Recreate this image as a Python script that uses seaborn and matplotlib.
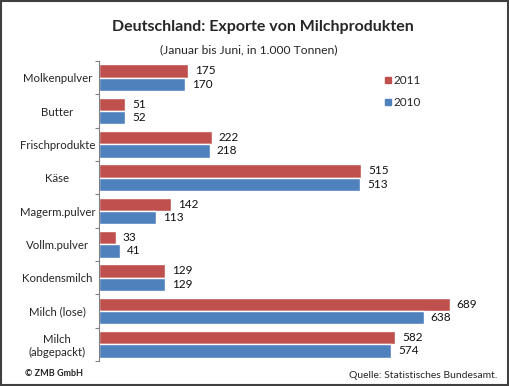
import pandas as pd
import numpy as np
import matplotlib.pyplot as plt
import seaborn as sns
from matplotlib.patches import Rectangle

# Exporte Januar bis Juni, in 1.000 Tonnen
produkte = ["Molkenpulver", "Butter", "Frischprodukte", "Käse", "Magerm.pulver",
            "Vollm.pulver", "Kondensmilch", "Milch (lose)", "Milch\n(abgepackt)"]
werte_2011 = [175, 51, 222, 515, 142, 33, 129, 689, 582]
werte_2010 = [170, 52, 218, 513, 113, 41, 129, 638, 574]
jahre = ["2011", "2010"]

df = pd.DataFrame({
    "produkt": produkte * 2,
    "wert": werte_2011 + werte_2010,
    "jahr": ["2011"] * len(produkte) + ["2010"] * len(produkte),
})

sns.set_style("white")
plt.rcParams["font.family"] = ["Lato", "DejaVu Sans"]

fig = plt.figure(figsize=(5.1, 3.86), dpi=100)
ax = fig.add_axes([99 / 510, 1 - 361 / 386, 407 / 510, 300 / 386])

sns.barplot(data=df, y="produkt", x="wert", hue="jahr", hue_order=jahre,
            order=produkte, palette=["#C0504D", "#4F81BD"], orient="h",
            width=0.8, saturation=1, ax=ax, legend=False)

for cont in ax.containers:
    ax.bar_label(cont, padding=5, fontsize=8.5, color="#111111")

ax.set_xlim(0, 800)
ax.set_ylim(len(produkte) - 0.5, -0.5)
ax.set_xlabel("")
ax.set_ylabel("")
ax.set_xticks([])

# ticks between categories, labels centred
ax.set_yticks(np.arange(-0.5, len(produkte), 1))
ax.set_yticklabels([])
ax.set_yticks(np.arange(len(produkte)), minor=True)
ax.set_yticklabels(produkte, minor=True, fontsize=8.2, ha="center")
ax.tick_params(axis="y", which="major", length=3, width=0.8, color="#808080", left=True)
ax.tick_params(axis="y", which="minor", length=0, pad=30)

for s in ["top", "right", "bottom"]:
    ax.spines[s].set_visible(False)
ax.spines["left"].set_color("#808080")
ax.spines["left"].set_linewidth(0.8)

# legend
for i, (j, c) in enumerate(zip(jahre, ["#C0504D", "#4F81BD"])):
    y = 1 - (80 + 22 * i) / 386
    fig.patches.append(Rectangle((385 / 510, y - 3 / 386), 6 / 510, 6 / 386,
                                 transform=fig.transFigure, color=c))
    fig.text(393 / 510, y, j, fontsize=8.5, va="center")

fig.text(263 / 510, 1 - 27 / 386, "Deutschland: Exporte von Milchprodukten",
         fontsize=11.5, fontweight="bold", ha="center", va="center")
fig.text(249 / 510, 1 - 50 / 386, "(Januar bis Juni, in 1.000 Tonnen)",
         fontsize=8.7, ha="center", va="center")
fig.text(25 / 510, 1 - 373 / 386, "© ZMB GmbH", fontsize=6.5, fontweight="bold",
         va="center")
fig.text(497 / 510, 1 - 375 / 386, "Quelle: Statistisches Bundesamt.", fontsize=7.5,
         ha="right", va="center")

fig.patches.append(Rectangle((0.002, 0.003), 0.995, 0.994, transform=fig.transFigure,
                             fill=False, edgecolor="#404040", linewidth=1.5))

fig.savefig("out.png", dpi=100)
